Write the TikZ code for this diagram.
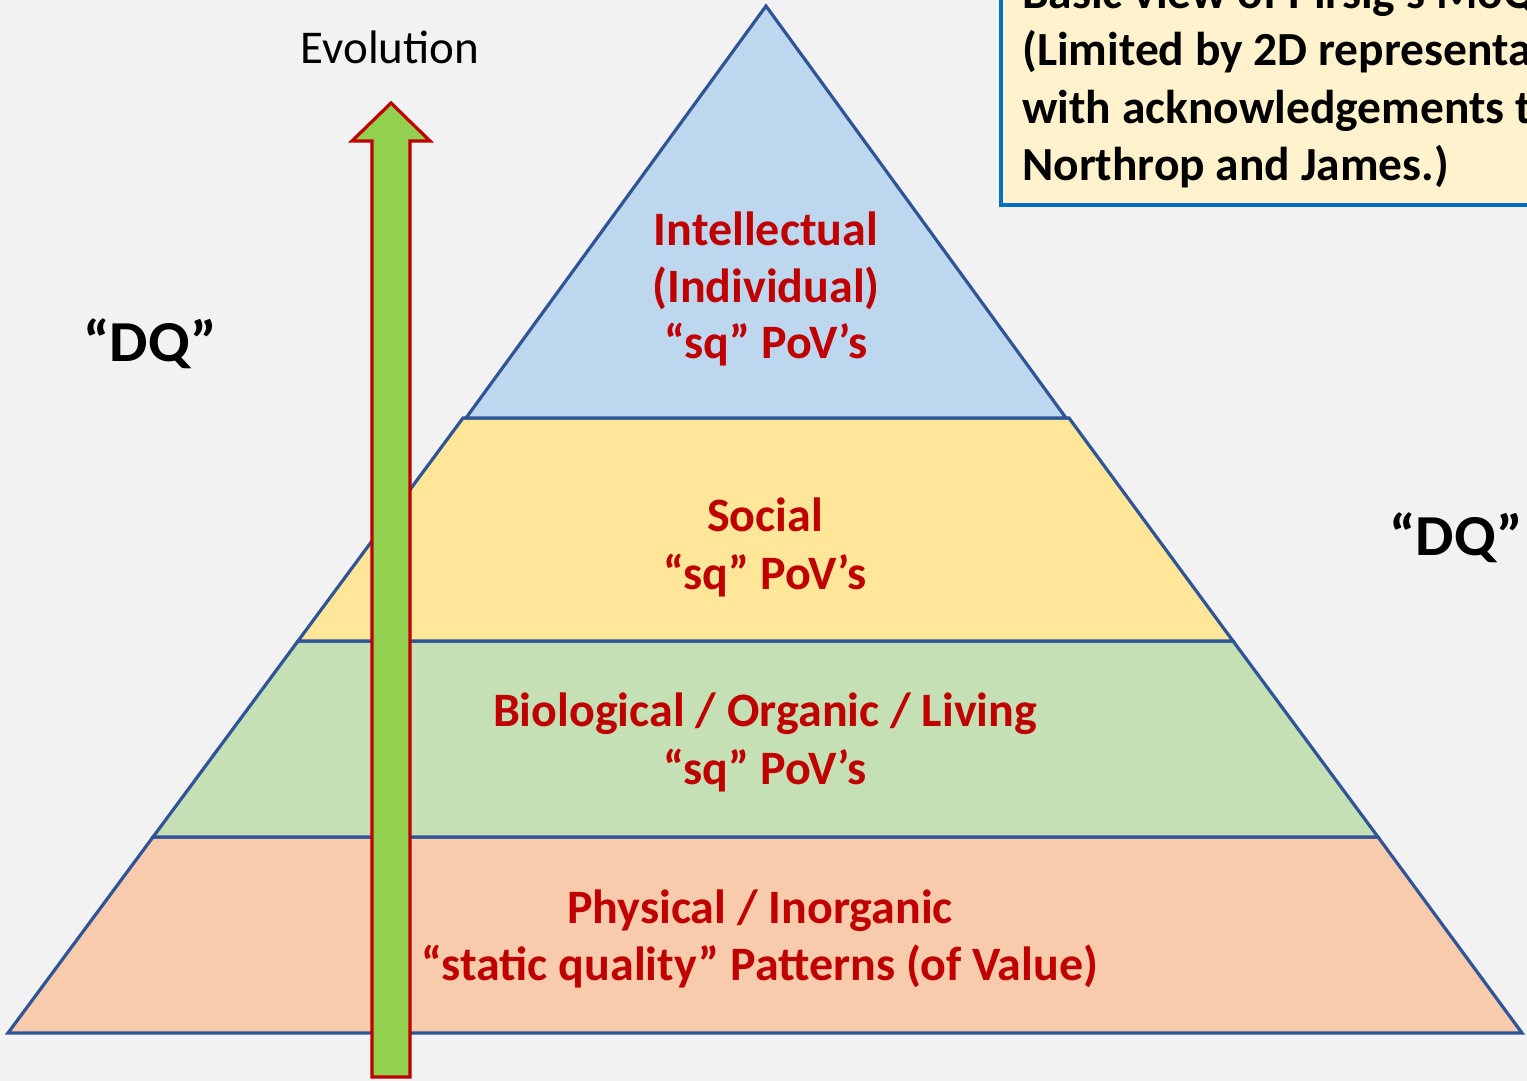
\documentclass[tikz,border=0pt]{standalone}
\usepackage{fontspec}
\setmainfont{Carlito}
\definecolor{bgc}{HTML}{F2F2F2}
\definecolor{edgec}{HTML}{2F5597}
\definecolor{intc}{HTML}{BDD7EE}
\definecolor{socc}{HTML}{FFE699}
\definecolor{bioc}{HTML}{C5E0B4}
\definecolor{phyc}{HTML}{F8CBAD}
\definecolor{redc}{HTML}{C00000}
\definecolor{arrc}{HTML}{92D050}
\definecolor{boxc}{HTML}{FFF2CC}
\definecolor{boxe}{HTML}{0070C0}
\tikzset{
  band/.style={draw=edgec, line width=3.2pt, line join=miter},
  lvl/.style={text=redc, font=\fontsize{48}{57}\selectfont\bfseries, anchor=base, inner sep=0pt},
  dq/.style={font=\fontsize{58}{66}\selectfont\bfseries, anchor=base, inner sep=0pt, xscale=1.05},
  boxline/.style={font=\fontsize{47.5}{57}\selectfont\bfseries, anchor=base west, inner sep=0pt},
}
\begin{document}
\begin{tikzpicture}[x=1pt,y=-1pt]
\useasboundingbox (0,0) rectangle (1527,1081);
\clip (0,0) rectangle (1527,1081);
\fill[bgc] (0,0) rectangle (1527,1081);
% pyramid bands
\draw[band, fill=phyc] (153,837) -- (1378,837) -- (1522,1033) -- (8,1033) -- cycle;
\draw[band, fill=bioc] (298,641) -- (1233,641) -- (1378,837) -- (153,837) -- cycle;
\draw[band, fill=socc] (463,418) -- (1069,418) -- (1233,641) -- (298,641) -- cycle;
\draw[band, fill=intc] (766,6) -- (1066,418) -- (466,418) -- cycle;
% level texts
\node[lvl] (i1) at (766,245) {Intellectual};
\node[lvl] (i2) at (766,302) {(Individual)};
\node[lvl] (i3) at (766,358) {“sq” PoV’s};
\node[lvl] (s1) at (765,531) {Social};
\node[lvl] (s2) at (765,589) {“sq” PoV’s};
\node[lvl] (b1) at (765,726) {Biological / Organic / Living};
\node[lvl] (b2) at (765,784) {“sq” PoV’s};
\node[lvl] (p1) at (760,923) {Physical / Inorganic};
\node[lvl] (p2) at (760,980) {“static quality” Patterns (of Value)};
% evolution arrow
\draw[draw=redc, fill=arrc, line width=3.2pt, line join=miter]
  (372,1077) -- (372,141) -- (352,141) -- (391,103) -- (430,141) -- (410,141) -- (410,1077) -- cycle;
\node[anchor=base, inner sep=0pt, font=\fontsize{47}{56}\selectfont] (evo) at (390,64) {Evolution};
% DQ labels
\node[dq] (dqa) at (150,361) {“DQ”};
\node[dq] (dqb) at (1456,555) {“DQ”};
% info box
\draw[draw=boxe, fill=boxc, line width=4pt] (1001,-20) rectangle (1560,205);
\node[boxline] (t0) at (1022,9) {Basic view of Pirsig’s MoQ};
\node[boxline] (t1) at (1022,66) {(Limited by 2D representation,};
\node[boxline] (t2) at (1022,123) {with acknowledgements to};
\node[boxline] (t3) at (1022,180) {Northrop and James.)};
\end{tikzpicture}
\end{document}
